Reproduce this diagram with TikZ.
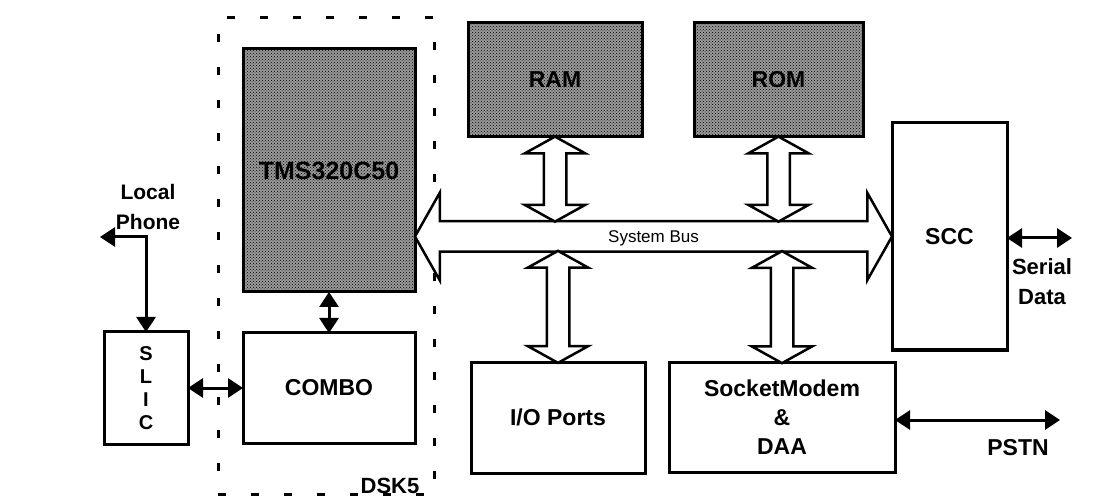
\documentclass[tikz,border=0pt]{standalone}
\usepackage{fontspec}
\setmainfont{Liberation Sans}
\usetikzlibrary{arrows.meta, positioning, calc, patterns, shapes.arrows}

\begin{document}
\begin{tikzpicture}[
  x=1pt, y=-1pt,
  font=\fontsize{23}{29}\selectfont\bfseries,
  blk/.style={draw, line width=3pt, outer sep=0pt, align=center, inner sep=0pt},
  chip/.style={blk, preaction={fill=black!40}, pattern=crosshatch dots,
               pattern color=black},
  wide/.style={double arrow, draw, line width=2.5pt, fill=white, outer sep=0pt,
               inner xsep=0pt},
  hollow/.style={wide, rotate=90, inner ysep=10pt,
                 double arrow head extend=19pt, double arrow tip angle=122},
  arr/.style={{Triangle[length=15pt, width=19pt]}-{Triangle[length=15pt, width=19pt]},
              line width=3pt},
  lb/.style={align=center, inner sep=0pt},
  node distance=41pt and 55pt]

  \useasboundingbox (0,0) rectangle (1097,502);

  % board outline
  \node[draw, dash pattern=on 8pt off 25pt, line width=3pt,
        minimum width=216pt, minimum height=476pt] (dsk) at (326,256) {};

  \node[chip, minimum width=172pt, minimum height=243pt,
        font=\fontsize{25}{30}\selectfont\bfseries] (tms) at (329,170.5) {TMS320C50};
  \node[blk, below=of tms, minimum width=172pt, minimum height=110pt] (combo) {COMBO};
  \node[blk, left=of combo, minimum width=84pt, minimum height=112pt,
        font=\fontsize{20}{23}\selectfont\bfseries] (slic) {S\\L\\I\\C};
  \node[chip, minimum width=174pt, minimum height=114pt] (ram) at (555,80) {RAM};
  \node[chip, right=52pt of ram, minimum width=169pt, minimum height=114pt] (rom) {ROM};
  \node[blk, minimum width=115pt, minimum height=227pt] (scc) at (949.5,236.5) {SCC};
  \node[blk, minimum width=174pt, minimum height=111pt] (io) at (558,417.5) {I/O Ports};
  \node[blk, right=24pt of io, minimum width=226pt, minimum height=110pt]
    (modem) {SocketModem\\\&\\DAA};

  % system bus
  \node[wide, minimum height=477pt, inner ysep=0pt, text height=20pt, text depth=8pt,
        double arrow head extend=28.5pt, double arrow tip angle=121,
        font=\fontsize{17}{20}\selectfont]
    (bus) at ($(tms.east |- scc.west)!.5!(scc.west)$) {System Bus};
  \node[hollow, minimum height=85pt] (ramlink)
    at ($(ram.south)!.5!(ram.south |- bus.north)$) {};
  \node[hollow, minimum height=85pt] (romlink)
    at ($(rom.south)!.5!(rom.south |- bus.north)$) {};
  \node[hollow, minimum height=112pt] (iolink)
    at ($(io.north)!.5!(io.north |- bus.south)$) {};
  \node[hollow, minimum height=112pt] (modemlink)
    at ($(modem.north)!.5!(modem.north |- bus.south)$) {};

  \coordinate (phone) at (100,237);
  \coordinate (serial) at (1072,238);
  \coordinate (pstn) at (1060,420);

  \draw[arr] (tms.south) -- (tms.south |- combo.north);
  \draw[arr] (slic.east) -- (slic.east -| combo.west);
  \draw[arr] (slic.north) |- (phone);
  \draw[arr] (serial -| scc.east) -- (serial);
  \draw[arr] (pstn -| modem.east) -- (pstn);

  \node[lb, font=\fontsize{21}{30}\selectfont\bfseries] (phonelbl) at (148,207) {Local\\Phone};
  \node[lb, font=\fontsize{22}{30}\selectfont\bfseries] (seriallbl) at (1042,282) {Serial\\Data};
  \node[lb] (pstnlbl) at (1018,448) {PSTN};
  \node[lb, anchor=base east, font=\fontsize{22}{26}\selectfont\bfseries] (dsklbl)
    at ([xshift=-16pt,yshift=2pt]dsk.south east) {DSK5};
\end{tikzpicture}
\end{document}
